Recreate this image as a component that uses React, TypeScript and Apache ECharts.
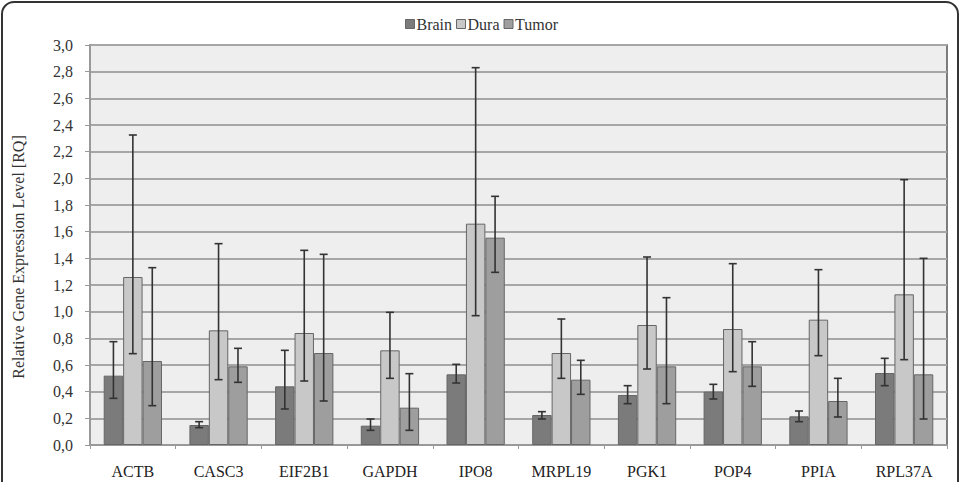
import React, { useEffect, useRef } from "react";
import * as echarts from "echarts";

const categories = ["ACTB", "CASC3", "EIF2B1", "GAPDH", "IPO8", "MRPL19", "PGK1", "POP4", "PPIA", "RPL37A"];
const seriesNames = ["Brain", "Dura", "Tumor"];
const brainValues = [0.52, 0.15, 0.44, 0.145, 0.53, 0.225, 0.375, 0.4, 0.215, 0.54];
const duraValues = [1.26, 0.86, 0.84, 0.71, 1.66, 0.69, 0.9, 0.87, 0.94, 1.13];
const tumorValues = [0.63, 0.59, 0.69, 0.28, 1.555, 0.49, 0.59, 0.59, 0.33, 0.53];
const brainLow = [0.35, 0.13, 0.27, 0.11, 0.465, 0.195, 0.31, 0.345, 0.175, 0.445];
const brainHigh = [0.775, 0.175, 0.71, 0.195, 0.605, 0.25, 0.445, 0.455, 0.255, 0.65];
const duraLow = [0.685, 0.49, 0.48, 0.5, 0.97, 0.5, 0.57, 0.55, 0.67, 0.64];
const duraHigh = [2.325, 1.51, 1.46, 0.995, 2.83, 0.945, 1.41, 1.36, 1.315, 1.99];
const tumorLow = [0.295, 0.47, 0.33, 0.11, 1.295, 0.38, 0.31, 0.44, 0.21, 0.195];
const tumorHigh = [1.33, 0.725, 1.43, 0.535, 1.865, 0.635, 1.105, 0.775, 0.5, 1.4];
const yTickLabels = ["0,0", "0,2", "0,4", "0,6", "0,8", "1,0", "1,2", "1,4", "1,6", "1,8", "2,0", "2,2", "2,4", "2,6", "2,8", "3,0"];

const colors = ["#7b7b7b", "#c8c8c8", "#9e9e9e"];
const CATEGORY_GAP = 0.32;

export default function App() {
  const ref = useRef<HTMLDivElement>(null);
  useEffect(() => {
    if (!ref.current) return;
    const chart = echarts.init(ref.current, undefined, { renderer: "svg" });
    const values = [brainValues, duraValues, tumorValues];
    const lows = [brainLow, duraLow, tumorLow];
    const highs = [brainHigh, duraHigh, tumorHigh];
    const font = "Liberation Serif";

    const barSeries = seriesNames.map((name, i) => ({
      name,
      type: "bar",
      data: values[i],
      barGap: "0%",
      barCategoryGap: CATEGORY_GAP * 100 + "%",
      itemStyle: { color: colors[i], borderColor: "#666666", borderWidth: 1 },
    }));

    const errSeries = seriesNames.map((name, i) => ({
      name: name + " error",
      type: "custom",
      z: 5,
      data: categories.map((_, k) => [k, lows[i][k], highs[i][k]]),
      encode: { x: 0, y: [1, 2] },
      renderItem: (params: any, api: any) => {
        const idx = api.value(0);
        const lo = api.coord([idx, api.value(1)]);
        const hi = api.coord([idx, api.value(2)]);
        const catW = api.size([1, 0])[0];
        const bw = (catW * (1 - CATEGORY_GAP)) / 3;
        const x = lo[0] + (i - 1) * bw;
        const cap = 4;
        const style = { stroke: "#333333", lineWidth: 1.6 };
        return {
          type: "group",
          children: [
            { type: "line", shape: { x1: x, y1: lo[1], x2: x, y2: hi[1] }, style },
            { type: "line", shape: { x1: x - cap, y1: hi[1], x2: x + cap, y2: hi[1] }, style },
            { type: "line", shape: { x1: x - cap, y1: lo[1], x2: x + cap, y2: lo[1] }, style },
          ],
        };
      },
    }));

    chart.setOption({
      animation: false,
      textStyle: { fontFamily: font },
      graphic: [
        {
          type: "rect",
          z: -10,
          shape: { x: 2, y: 2, width: 956, height: 520, r: 12 },
          style: { fill: "none", stroke: "#333333", lineWidth: 2 },
        },
      ],
      legend: {
        top: 11,
        left: "center",
        data: seriesNames,
        itemWidth: 9,
        itemHeight: 9,
        itemGap: 4,
        icon: "rect",
        textStyle: { fontFamily: font, fontSize: 16, color: "#333", padding: [0, 0, 0, -3] },
        itemStyle: { borderColor: "#666", borderWidth: 1 },
      },
      grid: {
        left: 90,
        right: 16,
        top: 45,
        bottom: 37,
        show: true,
        backgroundColor: "#eeeeee",
        borderColor: "#555555",
        borderWidth: 1.5,
      },
      xAxis: {
        type: "category",
        data: categories,
        axisLine: { lineStyle: { color: "#999999", width: 2 } },
        axisTick: { show: true, alignWithLabel: false, length: 4, lineStyle: { color: "#999999" } },
        axisLabel: { fontFamily: font, fontSize: 16, color: "#222", margin: 18 },
      },
      yAxis: {
        type: "value",
        min: 0,
        max: 3,
        interval: 0.2,
        name: "Relative Gene Expression Level [RQ]",
        nameLocation: "middle",
        nameGap: 64,
        nameTextStyle: { fontFamily: font, fontSize: 16, color: "#333", padding: [0, 24, 0, 0] },
        axisLine: { show: true, lineStyle: { color: "#999999", width: 2 } },
        axisTick: { show: true, length: 5, lineStyle: { color: "#999999" } },
        axisLabel: {
          fontFamily: font,
          fontSize: 16,
          color: "#333",
          margin: 17,
          formatter: (v: number) => yTickLabels[Math.round(v / 0.2)] ?? String(v),
        },
        splitLine: { show: true, lineStyle: { color: "#a6a6a6", width: 2 } },
      },
      series: [...barSeries, ...errSeries],
    });
    return () => chart.dispose();
  }, []);
  return (
    <div
      ref={ref}
      style={{ position: "absolute", left: 0, top: 0, width: 963, height: 482, background: "#fff" }}
    />
  );
}
